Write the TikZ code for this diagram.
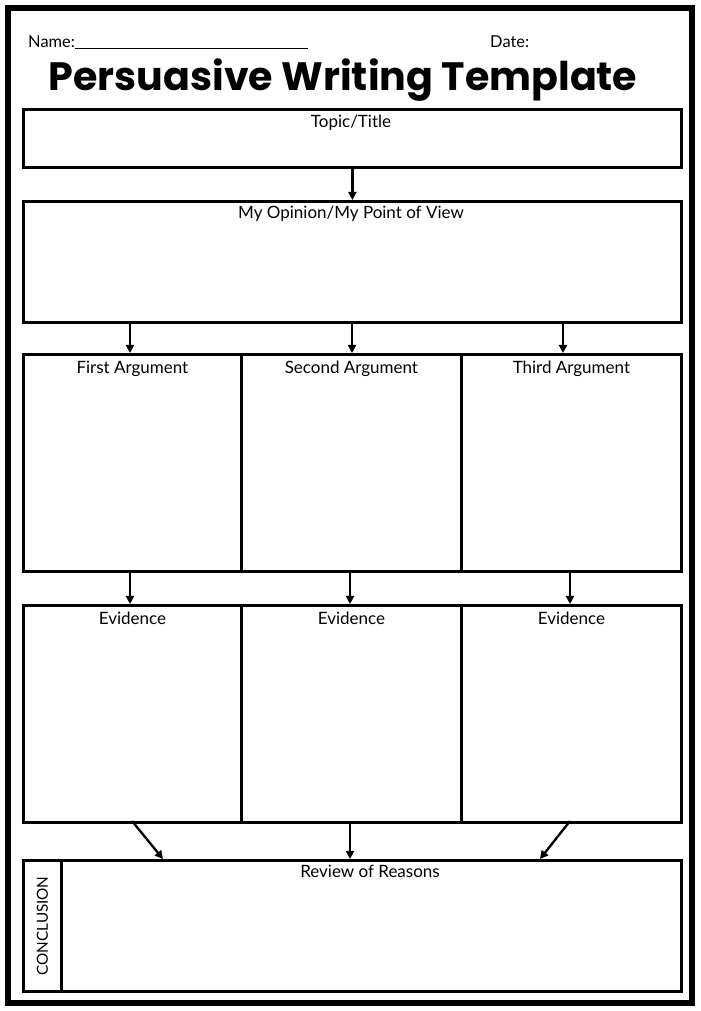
\documentclass[tikz,border=0pt]{standalone}
\usepackage{fontspec}
\setmainfont{Lato}
\newfontfamily\titlefont{Poppins}
\usetikzlibrary{arrows.meta}
\tikzset{
  box/.style={draw, line width=2.4pt, anchor=north west, inner sep=0pt},
  head/.style={anchor=north, font=\fontsize{14.5}{16}\selectfont, inner sep=0pt},
  link/.style={line width=2pt, -{Triangle[length=7pt,width=7pt]}}
}
\begin{document}
\begin{tikzpicture}[x=0.03cm, y=-0.03cm]
      \useasboundingbox (0,0) rectangle (700,1011);
      \draw[line width=5pt] (8,8) rectangle (692,1003); % page frame
      %
      \node[anchor=base west, font=\fontsize{14}{16}\selectfont, inner sep=0pt] (name) at (28,48) {Name:};
      \coordinate (nameend) at (308,48);
      \draw[line width=0.6pt] (name.base east) -- (nameend);
      \node[anchor=base west, font=\fontsize{14}{16}\selectfont, inner sep=0pt] (date) at (490,48) {Date:};
      \node[font=\titlefont\bfseries\fontsize{33.8}{36}\selectfont, inner sep=0pt] (title) at (343,80) {Persuasive Writing Template};
      %
      \node[box, minimum width=658*0.03cm, minimum height=58*0.03cm] (topic) at (22,108) {};
      \node[head] at (351,115) {Topic/Title};
      %
      \node[box, minimum width=658*0.03cm, minimum height=121*0.03cm] (op) at (22,200) {};
      \node[head] at (351,206) {My Opinion/My Point of View};
      %
      \foreach \i/\x/\w/\t in {1/22/218/First Argument, 2/240/220/Second Argument, 3/460/220/Third Argument}{
        \node[box, minimum width=\w*0.03cm, minimum height=217*0.03cm] (arg\i) at (\x,353) {};
        \node[head] at ([yshift=-7pt]arg\i.north) {\t};
      }
      \foreach \i/\x/\w in {1/22/218, 2/240/220, 3/460/220}{
        \node[box, minimum width=\w*0.03cm, minimum height=217*0.03cm] (ev\i) at (\x,604) {};
        \node[head] at ([yshift=-7pt]ev\i.north) {Evidence};
      }
      %
      \node[box, minimum width=38*0.03cm, minimum height=131*0.03cm] (side) at (22,859) {};
      \node[rotate=90, font=\fontsize{13}{15}\selectfont] at (side) {CONCLUSION};
      \node[box, minimum width=620*0.03cm, minimum height=131*0.03cm] (rev) at (60,859) {};
      \node[head] at (370,865) {Review of Reasons};
      %
      \draw[link] (topic) -- (op);                      % arrows
      \foreach \i/\x in {1/130, 2/352, 3/563}{
        \coordinate (o\i) at (\x,321);
        \coordinate (a\i) at (\x,353);
        \draw[link] (o\i) -- (a\i);
      }
      \foreach \i/\x in {1/130, 2/350, 3/570}{
        \coordinate (s\i) at (\x,570);
        \coordinate (e\i) at (\x,604);
        \draw[link] (s\i) -- (e\i);
      }
      \coordinate (c1) at (163,859);
      \coordinate (c2) at (350,859);
      \coordinate (c3) at (540,859);
      \coordinate (d1) at (132,821);
      \coordinate (d2) at (350,821);
      \coordinate (d3) at (570,821);
      \foreach \i in {1,2,3}{ \draw[link] (d\i) -- (c\i); }
    \end{tikzpicture}
\end{document}
